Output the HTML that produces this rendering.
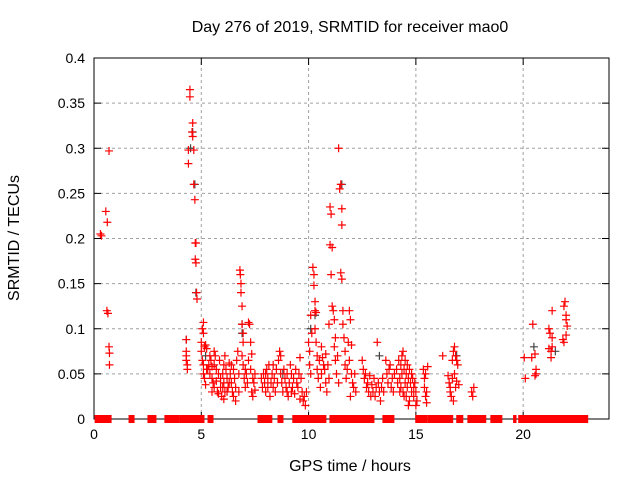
<!DOCTYPE html>
<html><head><meta charset="utf-8"><style>
html,body{margin:0;padding:0;background:#fff;}
svg text{font-family:"Liberation Sans",sans-serif;font-size:14px;fill:#000;}
svg text.big{font-size:16px;}
</style></head><body>
<svg id="chart" width="640" height="480" viewBox="0 0 640 480" xmlns="http://www.w3.org/2000/svg">
<rect width="640" height="480" fill="#fff"/>
<g id="grid"></g>
<g id="axes"></g>
<g id="marks"></g>
<text class="big" x="350" y="32" text-anchor="middle">Day 276 of 2019, SRMTID for receiver mao0</text>
<text class="big" x="350" y="471" text-anchor="middle">GPS time / hours</text>
<text class="big" transform="translate(19,238) rotate(-90)" text-anchor="middle">SRMTID / TECUs</text>
</svg>
<script>
const xTicks=[0,5,10,15,20];
const yTicks=[0,0.05,0.1,0.15,0.2,0.25,0.3,0.35,0.4];
const yTickLabels=["0","0.05","0.1","0.15","0.2","0.25","0.3","0.35","0.4"];
const zeroRanges=[[0.1,0.75],[1.68,1.82],[2.56,2.84],[3.35,3.91],[4.05,5.08],[5.36,5.5],[7.69,8.24],[8.62,8.76],[9.31,10.76],[11.04,13.0],[13.51,13.93],[15.04,15.46],[15.6,16.67],[16.95,17.14],[17.47,18.21],[18.54,18.96],[19.6,19.62],[19.84,22.96]];
const grayPoints=[[4.3,0.088],[4.6,0.318],[4.7,0.26],[4.75,0.14],[6.9,0.105],[6.9,0.095],[11.55,0.26],[13.3,0.07],[16.9,0.07],[20.5,0.08],[21.5,0.075],[4.5,0.3],[10.3,0.115],[10.1,0.1],[5.2,0.07],[8.8,0.05]];
const redPoints=[[0.3,0.205],[0.35,0.203],[0.55,0.23],[0.62,0.218],[0.7,0.297],[0.6,0.12],[0.65,0.117],[0.7,0.08],[0.72,0.073],[0.72,0.06],
[4.47,0.365],[4.47,0.357],[4.6,0.328],[4.57,0.318],[4.6,0.313],[4.4,0.298],[4.65,0.298],[4.4,0.283],[4.65,0.26],[4.7,0.243],[4.72,0.195],[4.75,0.195],[4.72,0.177],[4.75,0.173],[4.78,0.14],[4.8,0.133],[4.3,0.088],[4.3,0.075],[4.3,0.07],[4.3,0.065],[4.35,0.06],[4.35,0.055],
[5.0,0.085],[5.0,0.075],[5.05,0.1],[5.1,0.107],[5.1,0.095],[5.05,0.065],[5.1,0.06],[5.15,0.08],[5.2,0.082],[5.25,0.078],[5.1,0.05],[5.15,0.045],[5.2,0.038],[5.3,0.055],[5.35,0.06],[5.4,0.05],[5.45,0.065],[5.5,0.058],[5.5,0.045],[5.55,0.04],[5.6,0.035],[5.6,0.06],[5.65,0.07],[5.7,0.055],[5.7,0.042],[5.75,0.03],[5.8,0.05],[5.85,0.065],[5.9,0.045],[5.9,0.035],[5.95,0.025],[6.0,0.05],[6.05,0.06],[6.05,0.04],[6.1,0.07],[6.1,0.03],[6.15,0.055],[6.2,0.045],[6.25,0.035],[6.3,0.062],[6.35,0.05],[6.4,0.04],[6.45,0.03],[6.5,0.055],[6.55,0.045],[6.6,0.035],[6.65,0.065],[6.7,0.075],[6.75,0.05],[6.8,0.165],[6.82,0.16],[6.85,0.15],[6.85,0.14],[6.9,0.125],[6.9,0.105],[6.95,0.095],[6.95,0.085],[6.9,0.07],[6.95,0.06],[7.0,0.045],[7.05,0.035],[7.1,0.05],[7.2,0.107],[7.25,0.105],[7.2,0.065],[7.3,0.085],[7.35,0.072],[7.3,0.055],[7.4,0.045],[7.45,0.04],[7.5,0.05],[7.5,0.032],[7.4,0.025],[7.35,0.03],[6.05,0.022],[5.8,0.028],[6.2,0.03],[6.5,0.025],[6.6,0.02],[6.75,0.03],[6.3,0.04],[5.4,0.07],[5.6,0.075],[5.25,0.055],[6.4,0.06],[7.15,0.04],[7.05,0.055],[6.0,0.035],[5.5,0.03],
[7.8,0.045],[7.85,0.035],[7.9,0.05],[7.95,0.04],[8.0,0.03],[8.05,0.055],[8.1,0.045],[8.1,0.035],[8.15,0.06],[8.2,0.025],[8.25,0.04],[8.3,0.05],[8.35,0.035],[8.4,0.045],[8.45,0.03],[8.5,0.055],[8.55,0.04],[8.6,0.065],[8.65,0.075],[8.7,0.07],[8.7,0.05],[8.75,0.04],[8.8,0.03],[8.85,0.055],[8.9,0.045],[8.95,0.035],[9.0,0.05],[9.05,0.025],[9.1,0.04],[9.15,0.06],[9.2,0.05],[9.25,0.035],[9.3,0.045],[9.35,0.028],[9.4,0.055],[9.45,0.04],[9.5,0.035],[9.55,0.05],[9.6,0.068],[9.65,0.045],[9.7,0.03],[9.75,0.02],[9.8,0.025],[9.85,0.015],[9.9,0.03],[9.6,0.022],[8.35,0.06],[9.0,0.03],[8.0,0.05],[9.2,0.03],
[10.0,0.085],[10.05,0.075],[10.05,0.06],[10.1,0.115],[10.1,0.05],[10.15,0.095],[10.2,0.168],[10.25,0.16],[10.25,0.148],[10.3,0.13],[10.3,0.12],[10.35,0.118],[10.3,0.1],[10.35,0.085],[10.4,0.07],[10.4,0.055],[10.45,0.045],[10.5,0.065],[10.55,0.035],[10.6,0.08],[10.6,0.05],[10.65,0.068],[10.7,0.06],[10.75,0.055],[10.8,0.04],[10.85,0.03],[10.9,0.06],[10.95,0.105],[11.0,0.235],[11.05,0.227],[11.0,0.193],[11.1,0.19],[11.05,0.16],[11.1,0.125],[11.15,0.12],[11.2,0.11],[11.2,0.08],[11.25,0.065],[11.3,0.05],[11.35,0.07],[11.4,0.3],[11.45,0.255],[11.5,0.26],[11.55,0.233],[11.55,0.215],[11.5,0.162],[11.55,0.155],[11.6,0.12],[11.6,0.105],[11.65,0.09],[11.7,0.075],[11.7,0.06],[11.75,0.045],[11.8,0.055],[11.85,0.085],[11.9,0.12],[11.95,0.11],[12.0,0.082],[11.9,0.065],[12.0,0.05],[12.05,0.04],[12.1,0.035],[12.15,0.05],[12.2,0.03],[11.4,0.04],[10.8,0.072],[11.25,0.09],[11.95,0.025],[10.95,0.045],
[12.5,0.065],[12.55,0.055],[12.6,0.045],[12.65,0.05],[12.7,0.035],[12.75,0.04],[12.8,0.03],[12.85,0.048],[12.9,0.025],[12.95,0.038],[13.0,0.03],[13.05,0.045],[13.1,0.025],[13.15,0.035],[13.2,0.085],[13.25,0.04],[13.3,0.03],[13.35,0.02],[13.4,0.035],[13.45,0.045],[13.5,0.03],[13.6,0.065],[13.65,0.05],[13.7,0.04],[13.75,0.055],[13.8,0.06],[13.85,0.035],[13.9,0.045],[13.95,0.03],[14.0,0.05],
[14.1,0.055],[14.15,0.04],[14.2,0.065],[14.25,0.045],[14.3,0.035],[14.3,0.06],[14.35,0.05],[14.4,0.03],[14.4,0.075],[14.45,0.055],[14.5,0.04],[14.5,0.065],[14.55,0.025],[14.55,0.05],[14.6,0.06],[14.6,0.035],[14.65,0.045],[14.7,0.055],[14.7,0.02],[14.75,0.04],[14.8,0.03],[14.8,0.05],[14.85,0.045],[14.9,0.025],[14.9,0.035],[14.95,0.04],[15.0,0.03],[15.0,0.015],[15.05,0.02],[14.45,0.025],[14.25,0.03],[14.35,0.07],[14.65,0.015],
[15.35,0.055],[15.4,0.045],[15.45,0.05],[15.4,0.035],[15.45,0.025],[15.5,0.03],[15.5,0.018],[15.55,0.058],
[16.25,0.07],[16.5,0.048],[16.55,0.04],[16.6,0.035],[16.6,0.03],[16.65,0.025],[16.7,0.065],[16.75,0.075],[16.8,0.08],[16.85,0.07],[16.9,0.065],[16.95,0.06],[16.7,0.045],[16.8,0.05],[16.85,0.035],[16.75,0.02],[17.0,0.038],[16.9,0.042],
[17.6,0.03],[17.65,0.025],[17.7,0.035],
[20.05,0.068],[20.1,0.045],[20.4,0.068],[20.45,0.105],[20.55,0.072],[20.6,0.055],[20.6,0.05],[20.55,0.048],[21.2,0.1],[21.25,0.095],[21.3,0.075],[21.35,0.08],[21.2,0.078],[21.3,0.068],[21.35,0.12],[21.35,0.09],[21.85,0.088],[21.9,0.125],[21.95,0.13],[22.0,0.115],[22.0,0.11],[22.05,0.103],[21.9,0.085],[22.0,0.093]];

const X0=94,X1=609,Y0=419,Y1=58,XMAX=24,YMAX=0.4;
const sx=h=>X0+(X1-X0)*h/XMAX;
const sy=v=>Y0-(Y0-Y1)*v/YMAX;
const NS="http://www.w3.org/2000/svg";
function mk(tag,attrs,parent){const e=document.createElementNS(NS,tag);for(const k in attrs)e.setAttribute(k,attrs[k]);parent.appendChild(e);return e;}
const grid=document.getElementById('grid'),axes=document.getElementById('axes'),marks=document.getElementById('marks');
yTicks.forEach((t,i)=>{
  const y=sy(t);
  if(t>0&&t<YMAX){const g=mk('line',{x1:X0,x2:X1,y1:y,y2:y,stroke:'#a0a0a0','stroke-dasharray':'3,3','stroke-width':1},grid);
  
  }
  mk('line',{x1:X0,x2:X0+7,y1:y,y2:y,stroke:'#000'},axes);
  mk('line',{x1:X1,x2:X1-7,y1:y,y2:y,stroke:'#000'},axes);
  const tx=mk('text',{x:X0-9,y:y+5,'text-anchor':'end'},axes);tx.textContent=yTickLabels[i];
  
  
});
xTicks.forEach(t=>{
  const x=sx(t);
  if(t>0){const g=mk('line',{x1:x,x2:x,y1:Y0,y2:Y1,stroke:'#a0a0a0','stroke-dasharray':'3,3','stroke-width':1},grid);
  
  }
  mk('line',{x1:x,x2:x,y1:Y0,y2:Y0-7,stroke:'#000'},axes);
  mk('line',{x1:x,x2:x,y1:Y1,y2:Y1+7,stroke:'#000'},axes);
  const tx=mk('text',{x:x,y:Y0+20,'text-anchor':'middle'},axes);tx.textContent=String(t);
  
  
});
const frame=mk('rect',{x:X0,y:Y1,width:X1-X0,height:Y0-Y1,fill:'none',stroke:'#000','stroke-width':1},axes);


function plus(h,v,color,name){
  const x=sx(h),y=sy(v);
  const p=mk('path',{d:`M${x-4},${y}H${x+4}M${x},${y-4}V${y+4}`,stroke:color,'stroke-width':1.2,fill:'none'},marks);
  
  
}
grayPoints.forEach(p=>plus(p[0],p[1],'#444','gray-point'));
redPoints.forEach(p=>plus(p[0],p[1],'#ff0000','srmtid-point'));
zeroRanges.forEach(r=>{
  const x1=sx(r[0])-1.5,x2=sx(r[1])+1.5;
  const b=mk('rect',{x:x1,y:Y0-4,width:x2-x1,height:8,fill:'#ff0000'},marks);
  
  
});
</script>
</body></html>
